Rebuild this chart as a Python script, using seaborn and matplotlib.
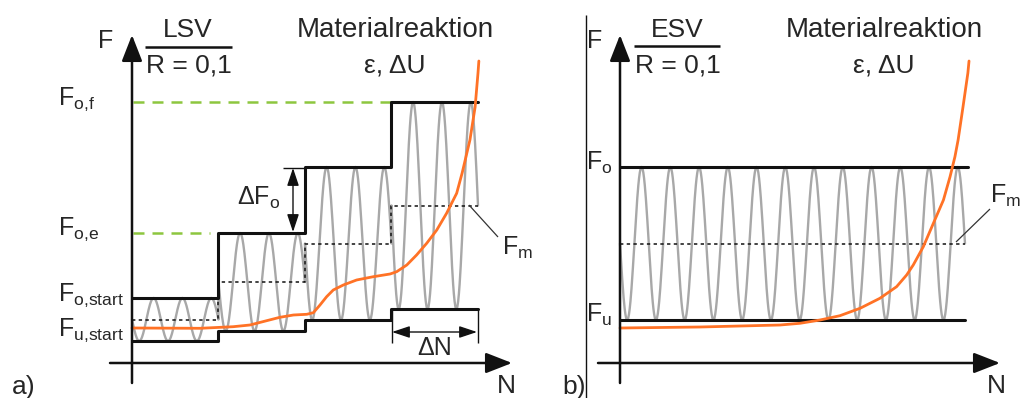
import numpy as np
import pandas as pd
import matplotlib
matplotlib.use("Agg")
import matplotlib.pyplot as plt
import seaborn as sns

# ---------------- data ----------------
# Panel a) LSV (Laststeigerungsversuch): blocks of 3 cycles with rising upper load
block_start_a = [0, 3, 6, 9]
cycles_per_block = 3
N_end_a = 12
F_upper_a = [6.5, 13.0, 19.6, 26.1]
F_lower_a = [2.2, 3.2, 4.3, 5.4]
green_end_a = [2.7, 9.0]          # extent of the dashed F_o,e and F_o,f guides
# material reaction (epsilon, dU) for panel a
N_resp_a = [0, 2.36, 3.51, 4.09, 4.67, 5.13, 5.6, 6.06, 6.29, 6.52, 6.75, 6.98, 7.33,
            7.79, 8.37, 8.95, 9.18, 9.53, 9.87, 10.22, 10.57, 10.91, 11.26, 11.45,
            11.72, 11.9, 12.0, 12.03]
eps_resp_a = [3.5, 3.47, 3.63, 3.8, 4.23, 4.57, 4.8, 4.87, 5.03, 5.8, 6.63, 7.3, 7.8,
              8.3, 8.63, 8.9, 9.13, 9.8, 10.8, 11.97, 13.3, 14.97, 16.97, 19.0,
              22.3, 25.6, 29.0, 30.2]

# Panel b) ESV (Einstufenversuch): constant amplitude, 12 cycles
cycles_b = 12
F_upper_b = 19.6
F_lower_b = 4.3
N_resp_b = [0, 2.78, 5.57, 6.26, 6.96, 7.65, 8.35, 9.04, 9.62, 9.97, 10.2, 10.55,
            10.9, 11.25, 11.48, 11.65, 11.76, 11.93, 12.1, 12.14]
eps_resp_b = [3.5, 3.6, 3.8, 3.97, 4.3, 4.73, 5.47, 6.47, 7.63, 8.8, 9.8, 11.63,
              13.97, 16.3, 18.63, 20.63, 22.3, 25.6, 29.0, 30.2]

# ---------------- style ----------------
sns.set_theme(style="white")
plt.rcParams["font.family"] = ["Liberation Sans", "DejaVu Sans"]
plt.rcParams["mathtext.fontset"] = "custom"
plt.rcParams["mathtext.rm"] = "Liberation Sans"
plt.rcParams["mathtext.it"] = "Liberation Sans"
plt.rcParams["mathtext.default"] = "regular"

GRAY = "#A8A8A8"
ORANGE = "#FF7226"
GREEN = "#8DC63F"
BLACK = "#111111"

W, H = 1023, 398
fig = plt.figure(figsize=(W / 100, H / 100), dpi=100)

# layout (pixels)
SPLIT = 586
A_ORIG = (132, 363)
A_CYC = 86.5 / 3
B_ORIG = (620, 363)
B_CYC = 28.75
F_PX = 10.0

ax_a = fig.add_axes([0, 0, SPLIT / W, 1])
ax_b = fig.add_axes([SPLIT / W, 0, (W - SPLIT) / W, 1])
ax_o = fig.add_axes([0, 0, 1, 1], zorder=10)
ax_o.set_xlim(0, W)
ax_o.set_ylim(H, 0)
ax_o.axis("off")
ax_o.patch.set_visible(False)


def load_signal(starts, upper, lower, cycles, n=80):
    frames = []
    for s, u, l in zip(starts, upper, lower):
        N = np.linspace(s, s + cycles, cycles * n + 1)
        m, a = (u + l) / 2, (u - l) / 2
        frames.append(pd.DataFrame({"N": N, "F": m - a * np.sin(2 * np.pi * (N - s))}))
    return pd.concat(frames, ignore_index=True)


def line(ax, x, y, **kw):
    df = pd.DataFrame({"N": x, "F": y})
    sns.lineplot(data=df, x="N", y="F", estimator=None, sort=False, ax=ax, **kw)


# ---------------- panel a ----------------
sig_a = load_signal(block_start_a, F_upper_a, F_lower_a, cycles_per_block)
line(ax_a, sig_a["N"], sig_a["F"], color=GRAY, lw=1.7, zorder=2)
mean_a = [(u + l) / 2 for u, l in zip(F_upper_a, F_lower_a)]
line(ax_a, block_start_a + [N_end_a], mean_a + [mean_a[-1]], color=BLACK, lw=1.1,
     linestyle=(0, (2.2, 2.2)), drawstyle="steps-post", zorder=3)
line(ax_a, block_start_a + [N_end_a], F_upper_a + [F_upper_a[-1]], color=BLACK, lw=2.2,
     drawstyle="steps-post", zorder=4)
line(ax_a, block_start_a + [N_end_a], F_lower_a + [F_lower_a[-1]], color=BLACK, lw=2.2,
     drawstyle="steps-post", zorder=4)
for lvl, xe in zip([F_upper_a[1], F_upper_a[3]], green_end_a):
    line(ax_a, [0.05, xe], [lvl, lvl], color=GREEN, lw=1.8, linestyle=(0, (4.4, 3.2)), zorder=3)
line(ax_a, N_resp_a, eps_resp_a, color=ORANGE, lw=2.0, zorder=6)
ax_a.set_xlim(-A_ORIG[0] / A_CYC, (SPLIT - A_ORIG[0]) / A_CYC)
ax_a.set_ylim(-(H - A_ORIG[1]) / F_PX, A_ORIG[1] / F_PX)
ax_a.axis("off")

# ---------------- panel b ----------------
sig_b = load_signal([0], [F_upper_b], [F_lower_b], cycles_b)
line(ax_b, sig_b["N"], sig_b["F"], color=GRAY, lw=1.7, zorder=2)
mean_b = (F_upper_b + F_lower_b) / 2
line(ax_b, [0, cycles_b], [mean_b, mean_b], color=BLACK, lw=1.1,
     linestyle=(0, (2.2, 2.2)), zorder=3)
line(ax_b, [0, cycles_b + 0.1], [F_upper_b, F_upper_b], color=BLACK, lw=2.2, zorder=4)
line(ax_b, [0, cycles_b], [F_lower_b, F_lower_b], color=BLACK, lw=2.2, zorder=4)
line(ax_b, N_resp_b, eps_resp_b, color=ORANGE, lw=2.0, zorder=6)
ax_b.set_xlim((SPLIT - B_ORIG[0]) / B_CYC, (W - B_ORIG[0]) / B_CYC)
ax_b.set_ylim(-(H - B_ORIG[1]) / F_PX, B_ORIG[1] / F_PX)
ax_b.axis("off")

# ---------------- decorations (pixel overlay) ----------------
AX_ARROW = dict(arrowstyle="-|>,head_length=1.15,head_width=0.45", lw=1.8, color=BLACK,
                mutation_scale=14, shrinkA=0, shrinkB=0)
SMALL_ARROW = dict(arrowstyle="<|-|>,head_length=0.9,head_width=0.3", lw=1.0, color=BLACK,
                   mutation_scale=12, shrinkA=0, shrinkB=0)


def arrow(p_from, p_to, props):
    ax_o.annotate("", xy=p_to, xytext=p_from, arrowprops=props, annotation_clip=False)


def seg(x, y, **kw):
    ax_o.plot(x, y, solid_capstyle="butt", **kw)


# axes arrows
arrow((132, 383), (132, 35), AX_ARROW)
arrow((110, 363), (512, 363), AX_ARROW)
arrow((620, 383), (620, 35), AX_ARROW)
arrow((598, 363), (1000, 363), AX_ARROW)
# separator
seg([586, 586], [15, 398], color=BLACK, lw=1.0)

# delta arrows
arrow((293, 168), (293, 232), SMALL_ARROW)
seg([283, 305], [168, 168], color=BLACK, lw=1.0)
arrow((392, 332), (477, 332), SMALL_ARROW)
seg([392, 392], [309, 343], color=BLACK, lw=1.0)
seg([477.5, 477.5], [309, 343], color=BLACK, lw=1.0)

# F_m leaders
seg([469, 498], [205, 237], color="#333333", lw=0.9)
seg([956, 990], [242, 209], color="#333333", lw=0.9)

# headers
seg([145, 232], [47, 47], color=BLACK, lw=1.8)
seg([634, 720], [46, 46], color=BLACK, lw=1.8)

TS = 19
ax_o.text(188, 37, "LSV", fontsize=TS, ha="center", va="baseline")
ax_o.text(189, 72, "R = 0,1", fontsize=TS, ha="center", va="baseline")
ax_o.text(395, 37, "Materialreaktion", fontsize=TS + 1, ha="center", va="baseline")
ax_o.text(395, 72, "ε, ΔU", fontsize=TS, ha="center", va="baseline")
ax_o.text(677, 37, "ESV", fontsize=TS, ha="center", va="baseline")
ax_o.text(678, 72, "R = 0,1", fontsize=TS, ha="center", va="baseline")
ax_o.text(884, 37, "Materialreaktion", fontsize=TS + 1, ha="center", va="baseline")
ax_o.text(884, 72, "ε, ΔU", fontsize=TS, ha="center", va="baseline")

LS = 18
ax_o.text(98, 48, "F", fontsize=LS, ha="left", va="baseline")
ax_o.text(587, 48, "F", fontsize=LS, ha="left", va="baseline")
ax_o.text(12, 394, "a)", fontsize=TS, ha="left", va="baseline")
ax_o.text(562, 394, "b)", fontsize=TS, ha="left", va="baseline")
ax_o.text(497, 393, "N", fontsize=TS, ha="left", va="baseline")
ax_o.text(987, 393, "N", fontsize=TS, ha="left", va="baseline")

ax_o.text(58, 105, r"$F_{o{,}f}$", fontsize=LS, ha="left", va="baseline")
ax_o.text(58, 235, r"$F_{o{,}e}$", fontsize=LS, ha="left", va="baseline")
ax_o.text(58, 301, r"$F_{o{,}start}$", fontsize=LS, ha="left", va="baseline")
ax_o.text(58, 336, r"$F_{u{,}start}$", fontsize=LS, ha="left", va="baseline")
ax_o.text(237, 205, r"$\Delta F_{o}$", fontsize=LS, ha="left", va="baseline")
ax_o.text(435, 355, "ΔN", fontsize=LS, ha="center", va="baseline")
ax_o.text(502, 255, r"$F_{m}$", fontsize=LS, ha="left", va="baseline")

ax_o.text(586, 170, r"$F_{o}$", fontsize=LS, ha="left", va="baseline")
ax_o.text(586, 322, r"$F_{u}$", fontsize=LS, ha="left", va="baseline")
ax_o.text(990, 203, r"$F_{m}$", fontsize=LS, ha="left", va="baseline")

fig.savefig("out.png", dpi=100)
